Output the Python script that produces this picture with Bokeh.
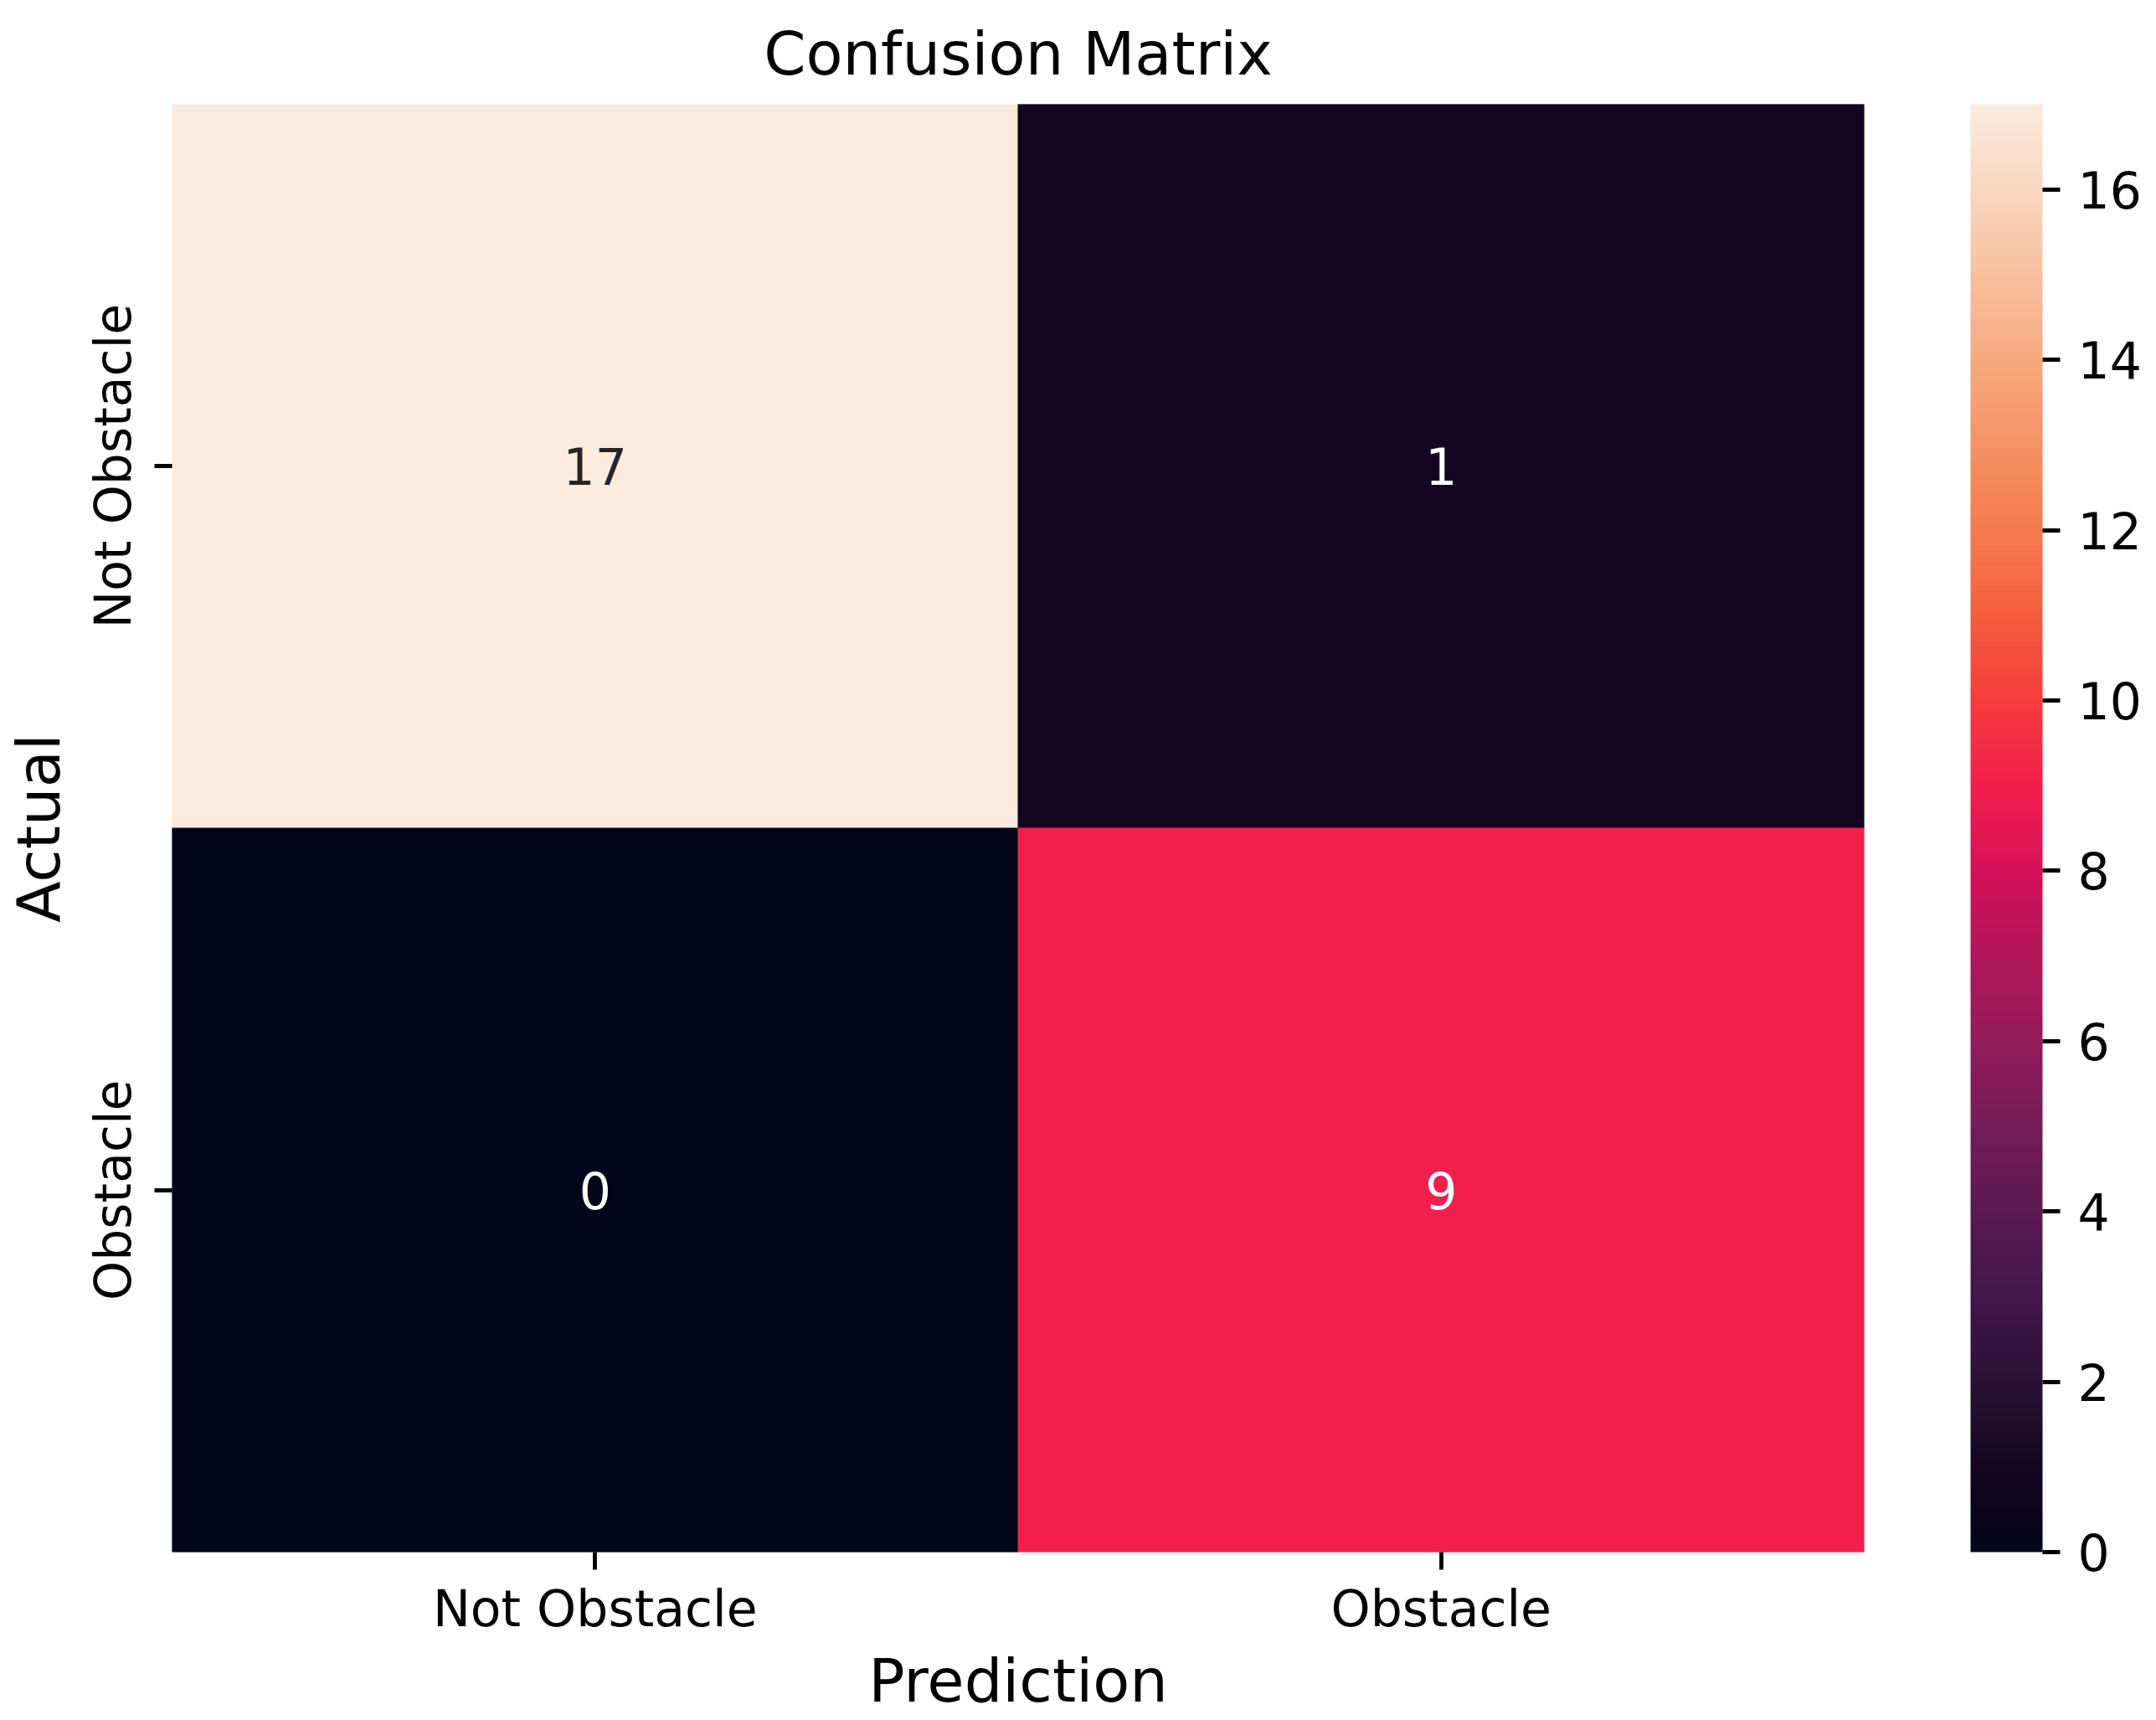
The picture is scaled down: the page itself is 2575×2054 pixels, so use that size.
import numpy as np
from bokeh.plotting import figure
from bokeh.models import ColumnDataSource, LinearColorMapper, ColorBar, FixedTicker, FactorRange
from bokeh.core.properties import value
from bokeh.embed import file_html
from bokeh.resources import INLINE

# ---------------- data ----------------
title_text = "Confusion Matrix"
x_label = "Prediction"
y_label = "Actual"
classes = ["Not Obstacle", "Obstacle"]
row_not_obstacle = [17, 1]   # actual "Not Obstacle": predicted Not Obstacle, Obstacle
row_obstacle = [0, 9]        # actual "Obstacle": predicted Not Obstacle, Obstacle
cbar_ticks = [0, 2, 4, 6, 8, 10, 12, 14, 16]
cbar_low = 0
cbar_high = 17

# rocket-like colour anchors (evenly spaced from low to high)
anchor_colors = ["#03051A", "#140621", "#2C1135", "#42164A", "#5A1A52", "#761C58",
                 "#931B5B", "#B3165C", "#D5105A", "#F41E4C", "#F53C3C", "#F55D3D",
                 "#F67A4F", "#F69264", "#F7A87E", "#F8C09E", "#F9D6BE", "#FCEBDD"]


def hex_to_rgb(h):
    h = h.lstrip("#")
    return np.array([int(h[i:i + 2], 16) for i in (0, 2, 4)], dtype=float)


anc = np.array([hex_to_rgb(c) for c in anchor_colors])
apos = np.linspace(0, 1, len(anchor_colors))
pos = np.linspace(0, 1, 256)
palette = []
for t in pos:
    rgb = [np.interp(t, apos, anc[:, k]) for k in range(3)]
    palette.append("#%02x%02x%02x" % tuple(int(round(v)) for v in rgb))

mapper = LinearColorMapper(palette=palette, low=cbar_low, high=cbar_high)

# ---------------- cells ----------------
preds, actuals, vals, labels, tcolors = [], [], [], [], []
for actual, row in zip(classes, [row_not_obstacle, row_obstacle]):
    for pred, v in zip(classes, row):
        preds.append(pred)
        actuals.append(actual)
        vals.append(v)
        labels.append(str(v))
        idx = min(255, int((v - cbar_low) / (cbar_high - cbar_low) * 256))
        rgb = hex_to_rgb(palette[idx]) / 255.0
        lin = np.where(rgb <= 0.03928, rgb / 12.92, ((rgb + 0.055) / 1.055) ** 2.4)
        lum = 0.2126 * lin[0] + 0.7152 * lin[1] + 0.0722 * lin[2]
        tcolors.append("#262626" if lum > 0.408 else "#ffffff")

src = ColumnDataSource(dict(pred=preds, actual=actuals, value=vals, label=labels, tcolor=tcolors))

FONT = "DejaVu Sans"

p = figure(
    x_range=FactorRange(*classes),
    y_range=FactorRange(*classes[::-1]),
    frame_width=2021, frame_height=1729,
    min_border_left=205, min_border_right=340,
    min_border_top=123, min_border_bottom=186,
    output_backend="svg", toolbar_location=None,
    title=title_text,
)
p.background_fill_color = "white"
p.border_fill_color = "white"
p.outline_line_color = None
p.grid.grid_line_color = None

p.title.align = "center"
p.title.text_font = FONT
p.title.text_font_size = "72px"
p.title.text_font_style = "normal"
p.title.text_color = "#000000"
p.title.standoff = 38

p.rect(x="pred", y="actual", width=1, height=1, source=src,
       fill_color={"field": "value", "transform": mapper},
       line_color={"field": "value", "transform": mapper}, line_width=1)

p.text(x="pred", y="actual", text="label", source=src,
       text_color="tcolor", text_font=value(FONT), text_font_size="60px",
       text_align="center", text_baseline="middle")

for ax in (p.xaxis[0], p.yaxis[0]):
    ax.axis_line_color = None
    ax.major_tick_line_color = "#000000"
    ax.major_tick_line_width = 4.8
    ax.major_tick_out = 21
    ax.major_tick_in = 0
    ax.minor_tick_line_color = None
    ax.major_label_text_font = FONT
    ax.major_label_text_font_size = "60px"
    ax.major_label_text_color = "#000000"
    ax.axis_label_text_font = FONT
    ax.axis_label_text_font_size = "72px"
    ax.axis_label_text_font_style = "normal"
    ax.axis_label_text_color = "#000000"

p.xaxis.axis_label = x_label
p.yaxis.axis_label = y_label
p.xaxis.major_label_standoff = 11
p.xaxis.axis_label_standoff = 6
p.yaxis.major_label_standoff = 15
p.yaxis.axis_label_standoff = 9
p.yaxis.major_label_orientation = "vertical"

cb = ColorBar(
    color_mapper=mapper,
    ticker=FixedTicker(ticks=cbar_ticks),
    location=(127, 0),
    width=86, height=1729,
    padding=0, margin=0,
    major_tick_out=21, major_tick_in=0,
    major_tick_line_color="#000000", major_tick_line_width=4.8,
    minor_tick_line_color=None,
    bar_line_color=None, border_line_color=None,
    background_fill_color=None,
    label_standoff=21,
    major_label_text_font=FONT,
    major_label_text_font_size="60px",
    major_label_text_color="#000000",
)
p.add_layout(cb, "right")

open("out.html", "w").write(file_html(p, INLINE))
